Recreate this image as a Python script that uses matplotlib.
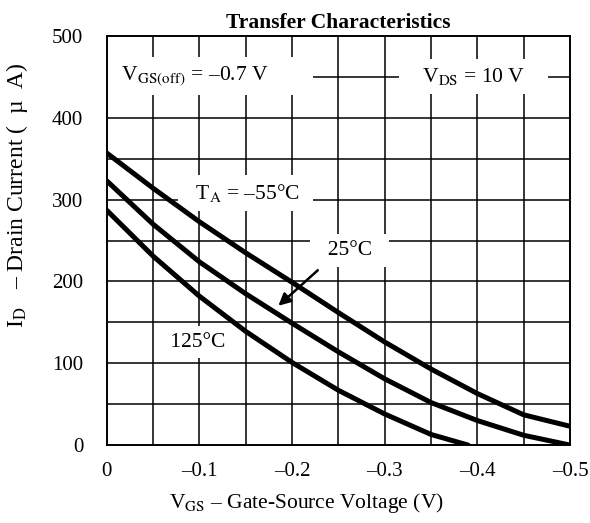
import matplotlib
matplotlib.use("Agg")
import matplotlib.pyplot as plt

plt.rcParams['font.family'] = ['Liberation Serif', 'DejaVu Serif']
plt.rcParams['mathtext.fontset'] = 'stix'

# Data
vgs = [0.0, -0.05, -0.10, -0.15, -0.20, -0.25, -0.30, -0.35, -0.40, -0.45, -0.50]
id_m55 = [357, 314, 273, 235, 199, 162, 126, 93, 63, 37, 23]
id_25 = [323, 270, 224, 185, 149, 114, 81, 52, 30, 12, 0]
vgs_125 = [0.0, -0.05, -0.10, -0.15, -0.20, -0.25, -0.30, -0.35, -0.39]
id_125 = [287, 231, 182, 139, 101, 67, 38, 13, 0]

xticks = [0, -0.1, -0.2, -0.3, -0.4, -0.5]
xticklabels = ['0', '\u20130.1', '\u20130.2', '\u20130.3', '\u20130.4', '\u20130.5']
yticks = [0, 100, 200, 300, 400, 500]

fig = plt.figure(figsize=(5.9, 5.23), dpi=100)
ax = fig.add_axes([0.181, 0.149, 0.785, 0.782])

ax.set_xlim(0, -0.5)
ax.set_ylim(0, 500)

# grid every 0.05 V and 50 uA
for gx in [i * -0.05 for i in range(1, 10)]:
    ax.axvline(gx, color='black', lw=1.1, zorder=1)
for gy in range(50, 500, 50):
    ax.axhline(gy, color='black', lw=1.1, zorder=1)

lw = 3.6
for xs, ys in [(vgs, id_m55), (vgs, id_25), (vgs_125, id_125)]:
    ax.plot(xs, ys, color='black', lw=lw, solid_capstyle='round',
            solid_joinstyle='round', zorder=3)

for s in ax.spines.values():
    s.set_linewidth(1.4)
    s.set_zorder(4)

ax.set_xticks(xticks)
ax.set_xticklabels(xticklabels)
ax.set_yticks(yticks)
ax.tick_params(length=0, labelsize=15)
ax.tick_params(axis='x', pad=12)
ax.tick_params(axis='y', pad=17)

ax.set_xlabel('V$_{\\mathrm{GS}}$ \u2013 Gate-Source Voltage (V)', fontsize=15.5)
ax.xaxis.set_label_coords(0.43, -0.112)
ax.set_ylabel('I$_{\\mathrm{D}}$   \u2013 Drain Current (  \u00b5  A)', fontsize=17)
ax.yaxis.set_label_coords(-0.166, 0.61)
ax.set_title('Transfer Characteristics', fontsize=15.5, fontweight='bold', pad=6)

box = dict(facecolor='white', edgecolor='none', pad=5)
fs = 15.5
ax.text(-0.110, 451, '  V$_{\\mathrm{GS(off)}}$ = \u20130.7 V        ', ha='center', va='center', fontsize=fs, bbox=box, zorder=2)
ax.text(-0.396, 451, '   V$_{\\mathrm{DS}}$ = 10 V    ', ha='center', va='center', fontsize=fs, bbox=box, zorder=2)
ax.text(-0.150, 308, '  T$_{\\mathrm{A}}$ = \u201355\u00b0C  ', ha='center', va='center', fontsize=fs, bbox=box, zorder=2)
ax.text(-0.262, 238, '  25\u00b0C  ', ha='center', va='center', fontsize=fs, bbox=box, zorder=2)
ax.text(-0.098, 126, ' 125\u00b0C ', ha='center', va='center', fontsize=fs, bbox=box, zorder=2)

ax.annotate('', xy=(-0.183, 168), xytext=(-0.230, 216),
            arrowprops=dict(arrowstyle='-|>', color='black', lw=1.8, mutation_scale=18),
            zorder=5)

fig.savefig('out.png', dpi=100)
